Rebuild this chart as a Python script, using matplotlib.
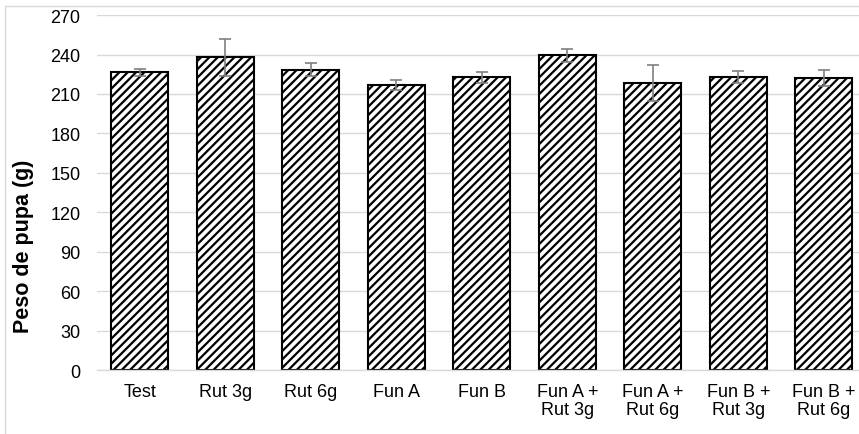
import matplotlib.pyplot as plt
import numpy as np

plt.rcParams['font.family'] = ['Liberation Sans', 'DejaVu Sans']
plt.rcParams['hatch.linewidth'] = 1.6
plt.rcParams['hatch.color'] = 'black'

# data
labels = ['Test', 'Rut 3g', 'Rut 6g', 'Fun A', 'Fun B',
          'Fun A +\nRut 3g', 'Fun A +\nRut 6g', 'Fun B +\nRut 3g', 'Fun B +\nRut 6g']
peso = [226.5, 238, 228.5, 216.7, 222.7, 239.5, 218.2, 222.7, 222]
err = [2.5, 14, 5, 4, 4, 5, 13.5, 4.5, 6]

fig = plt.figure(figsize=(8.59, 4.35), dpi=100)
ax = fig.add_axes([0.113, 0.147, 0.896, 0.816])

x = np.arange(len(labels))
ax.bar(x, peso, width=0.667, color='white', edgecolor='black', linewidth=1.5,
       hatch='////', zorder=2)
ax.errorbar(x, peso, yerr=err, fmt='none', ecolor='#7f7f7f', elinewidth=1.2,
            capsize=4, capthick=1.2, zorder=3)

ax.set_ylim(0, 270)
ax.set_yticks(np.arange(0, 271, 30))
ax.set_xlim(-0.5, len(labels) - 0.5)
ax.set_xticks(x)
ax.set_xticklabels(labels, fontsize=13, linespacing=1.1)
ax.tick_params(axis='y', labelsize=13, length=0, pad=12)
ax.tick_params(axis='x', length=0, pad=9)
ax.grid(axis='y', color='#d9d9d9', linewidth=1, zorder=0)
ax.set_axisbelow(True)
for side in ['top', 'right', 'left']:
    ax.spines[side].set_visible(False)
ax.spines['bottom'].set_color('#d9d9d9')
ax.spines['bottom'].set_linewidth(1)

ax.set_ylabel('Peso de pupa (g)', fontsize=15.5, fontweight='bold')
ax.yaxis.set_label_coords(-0.082, 0.351)

# chart border
fig.patches.append(plt.Rectangle((0.006, -0.01), 1.0, 0.995, transform=fig.transFigure,
                                 fill=False, edgecolor='#d9d9d9', linewidth=1))

fig.savefig('out.png', dpi=100)
